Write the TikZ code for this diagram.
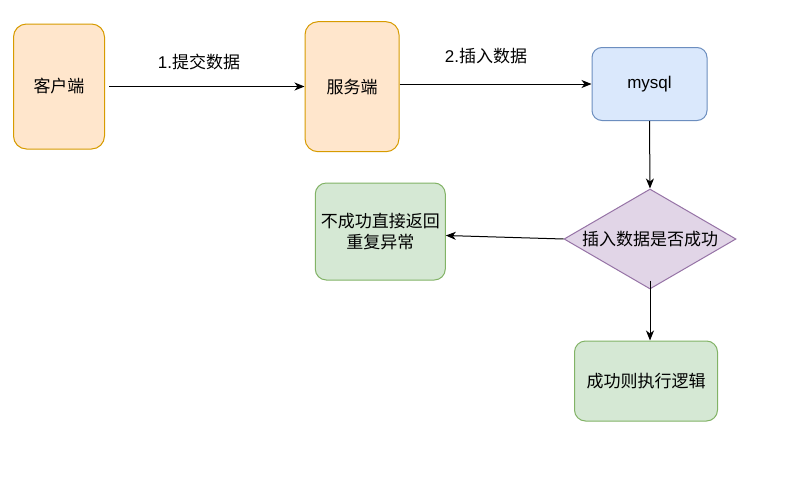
\documentclass[tikz,border=0pt]{standalone}
\usepackage{fontspec}
\setmainfont{Liberation Sans}
\newfontfamily\cjk{Noto Sans CJK SC}
\usetikzlibrary{shapes.geometric,arrows.meta}
\definecolor{orfill}{HTML}{FFE6CC}
\definecolor{ordraw}{HTML}{D79B00}
\definecolor{blfill}{HTML}{DAE8FC}
\definecolor{bldraw}{HTML}{6C8EBF}
\definecolor{pufill}{HTML}{E1D5E7}
\definecolor{pudraw}{HTML}{9673A6}
\definecolor{grfill}{HTML}{D5E8D4}
\definecolor{grdraw}{HTML}{82B366}
\begin{document}
\begin{tikzpicture}[x=1pt,y={(0pt,-1pt)},
  font=\fontsize{17}{21}\selectfont,
  boxbase/.style={draw, line width=1pt, rounded corners=11pt, align=center, inner sep=2pt},
  orbox/.style={boxbase, fill=orfill, draw=ordraw, rounded corners=13pt},
  blbox/.style={boxbase, fill=blfill, draw=bldraw, rounded corners=10pt},
  grbox/.style={boxbase, fill=grfill, draw=grdraw},
  decide/.style={diamond, draw=pudraw, fill=pufill, line width=1pt, inner sep=0pt, shape aspect=1.72},
  arr/.style={line width=1pt, -{Stealth[length=10pt,width=8pt,inset=3pt]}},
  lbl/.style={inner sep=0pt}]
\useasboundingbox (0,0) rectangle (812,482);
\fill[white] (0,0) rectangle (812,482);

\node[orbox, minimum width=91pt, minimum height=125pt] (client) at (59,86.5) {\cjk 客户端};
\node[orbox, minimum width=94pt, minimum height=130pt] (server) at (352,86.7) {\cjk 服务端};
\node[blbox, minimum width=115pt, minimum height=73pt] (mysql) at (649.5,84) {mysql};
\node[decide, minimum width=172pt, minimum height=100pt] (check) at (650,239) {\cjk 插入数据是否成功};
\node[grbox, minimum width=130pt, minimum height=97pt] (fail) at (380.3,231.5) {\cjk 不成功直接返回\\\cjk 重复异常};
\node[grbox, minimum width=143pt, minimum height=80pt] (ok) at (646,381) {\cjk 成功则执行逻辑};

\node[lbl] (l1) at (199,62) {1.{\cjk 提交数据}};
\node[lbl] (l2) at (486,56) {2.{\cjk 插入数据}};

\draw[arr] ([xshift=4pt]client.east) -- (client.east -| server.west);
\draw[arr] (server.east |- mysql.west) -- (mysql.west);
\draw[arr] (mysql.south) -- (check.north);
\draw[arr] (check.west) -- ([yshift=-4pt]fail.east);
\draw[arr] ([yshift=9pt]check.south) -- (check.south |- ok.north);
\end{tikzpicture}
\end{document}
